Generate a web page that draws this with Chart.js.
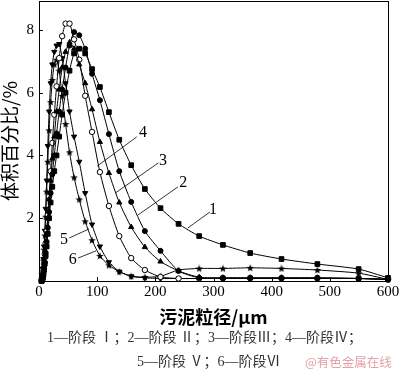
<!DOCTYPE html>
<html>
<head>
<meta charset="utf-8">
<script src="https://cdn.jsdelivr.net/npm/chart.js@4.4.1/dist/chart.umd.min.js"></script>
<style>
  html, body { margin: 0; padding: 0; background: #fff; }
  #wrap { position: relative; width: 400px; height: 372px; overflow: hidden; }
  #chart { position: absolute; left: 0; top: -4px; }
  .cap {
    position: absolute;
    font-family: "Liberation Serif", "Noto Sans CJK SC", serif;
    font-size: 14px;
    line-height: 20px;
    color: #333;
    white-space: nowrap;
  }
  .mark {
    position: absolute;
    font-family: "Noto Sans CJK SC", sans-serif;
    font-size: 12.5px;
    line-height: 20px;
    color: #e3a2aa;
    white-space: nowrap;
  }
</style>
</head>
<body>
<div id="wrap">
  <canvas id="chart" width="400" height="334"></canvas>
  <div class="cap" style="left:47px;top:328px">1—阶段 Ⅰ；2—阶段 Ⅱ；3—阶段Ⅲ；4—阶段Ⅳ；</div>
  <div class="cap" style="left:137px;top:352px">5—阶段 Ⅴ；6—阶段Ⅵ</div>
  <div class="mark" style="left:305px;top:352px">@有色金属在线</div>
</div>
<script>
// particle size bins (um)
const sizes = [4.4, 5.0, 5.8, 6.6, 7.6, 8.7, 10, 11.5, 13.2, 15.1, 17.4, 20, 22.9, 26.3, 30.2, 34.7, 39.8, 45.7, 52.5, 60.3,
  69.2, 79.4, 91.2, 104.7, 120.2, 138, 158.5, 182, 208.9, 239.9, 275.4, 316.2, 363.1, 416.9, 478.6, 549.5, 600];

// volume percentage (%) for each stage
const stage1 = [0, 0.02, 0.05, 0.1, 0.2, 0.35, 0.55, 0.8, 1.1, 1.5, 2.0, 2.5, 3.0, 3.5, 4.0, 4.6, 5.3, 6.0, 6.7, 7.25,
  7.4, 7.25, 6.75, 6.18, 5.38, 4.5, 3.69, 2.93, 2.32, 1.82, 1.43, 1.15, 0.89, 0.7, 0.54, 0.38, 0.1];
const stage2 = [0, 0.03, 0.07, 0.12, 0.22, 0.4, 0.6, 0.9, 1.25, 1.7, 2.2, 2.8, 3.4, 4.0, 4.7, 5.4, 6.1, 6.8, 7.5, 7.93,
  7.83, 7.4, 6.6, 5.76, 4.68, 3.5, 2.52, 1.59, 0.96, 0.32, 0.1, 0.08, 0.08, 0.08, 0.08, 0.08, 0.05];
const stage3 = [0, 0.04, 0.08, 0.15, 0.3, 0.5, 0.75, 1.1, 1.5, 2.0, 2.6, 3.2, 3.9, 4.6, 5.4, 6.1, 6.8, 7.3, 7.6, 7.4,
  6.9, 6.3, 5.47, 4.43, 3.44, 2.5, 1.72, 1.08, 0.62, 0.32, 0.12, 0.1, 0.1, 0.1, 0.1, 0.08, 0.05];
const stage4 = [0, 0.05, 0.1, 0.18, 0.32, 0.55, 0.85, 1.2, 1.6, 2.1, 2.7, 3.5, 4.4, 5.3, 6.2, 7.1, 7.8, 8.2, 8.2, 7.7,
  7.05, 5.9, 4.75, 3.47, 2.39, 1.43, 0.73, 0.35, 0.13, 0.08, 0.08, 0.1, 0.1, 0.1, 0.1, 0.08, 0.05];
const stage5 = [0.02, 0.08, 0.2, 0.4, 0.7, 1.1, 1.6, 2.3, 3.2, 4.3, 5.4, 6.3, 6.9, 7.3, 7.5, 7.55, 7.1, 6.3, 5.4, 4.6,
  3.8, 2.8, 1.8, 1.1, 0.6, 0.3, 0.15, 0.1, 0.08, 0.08, 0.08, 0.08, 0.08, 0.08, 0.08, 0.08, 0.05];
const stage6 = [0.02, 0.1, 0.22, 0.4, 0.65, 1.0, 1.45, 2.05, 2.85, 3.8, 4.8, 5.7, 6.4, 6.9, 7.05, 6.7, 5.9, 5.0, 4.1, 3.3,
  2.6, 1.9, 1.3, 0.8, 0.5, 0.3, 0.15, 0.12, 0.15, 0.35, 0.4, 0.4, 0.42, 0.4, 0.35, 0.25, 0.05];

const xTicks = [0, 100, 200, 300, 400, 500, 600];
const yTicks = [0, 2, 4, 6, 8];

// curve numbers with leader lines, in data units: [text, textX, textY, fromX, fromY, toX, toY]
const curveLabels = [
  ["1", 299, 2.26, 294, 2.2, 256, 1.69],
  ["2", 248, 3.12, 239, 3.0, 170, 2.1],
  ["3", 213, 3.82, 205, 3.76, 131, 2.8],
  ["4", 179, 4.71, 168, 4.59, 100, 3.66],
  ["5", 43, 1.31, 52, 1.37, 86, 1.66],
  ["6", 58, 0.67, 67, 0.73, 98, 0.96],
];

function makeStar(size) {
  const c = document.createElement("canvas");
  c.width = size;
  c.height = size;
  const g = c.getContext("2d");
  const r = size / 2;
  g.fillStyle = "#000";
  g.beginPath();
  for (let i = 0; i < 10; i++) {
    const rad = i % 2 === 0 ? r : r * 0.42;
    const a = -Math.PI / 2 + (i * Math.PI) / 5;
    const px = r + rad * Math.cos(a);
    const py = r + 0.3 + rad * Math.sin(a);
    if (i === 0) g.moveTo(px, py);
    else g.lineTo(px, py);
  }
  g.closePath();
  g.fill();
  return c;
}

function series(values, style) {
  return Object.assign(
    {
      data: sizes.map((x, i) => ({ x, y: values[i] })),
      showLine: true,
      borderColor: "#000",
      borderWidth: 1,
      tension: 0.2,
      pointBackgroundColor: "#000",
      pointBorderColor: "#000",
      pointBorderWidth: 1,
      pointRadius: 2.5,
      clip: false,
    },
    style
  );
}

const framePlugin = {
  id: "frame",
  afterDraw(chart) {
    const ctx = chart.ctx;
    const a = chart.chartArea;
    const xs = chart.scales.x;
    const ys = chart.scales.y;
    ctx.save();
    ctx.strokeStyle = "#000";
    ctx.lineWidth = 1;
    ctx.strokeRect(Math.round(a.left) + 0.5, Math.round(a.top) + 0.5, Math.round(a.right - a.left), Math.round(a.bottom - a.top));
    ctx.beginPath();
    xTicks.forEach((v) => {
      const px = Math.round(xs.getPixelForValue(v)) + 0.5;
      ctx.moveTo(px, a.bottom);
      ctx.lineTo(px, a.bottom - 4);
    });
    yTicks.forEach((v) => {
      const py = Math.round(ys.getPixelForValue(v)) + 0.5;
      ctx.moveTo(a.left, py);
      ctx.lineTo(a.left + 4, py);
    });
    ctx.stroke();

    ctx.font = "16px 'Liberation Serif'";
    ctx.fillStyle = "#000";
    ctx.textAlign = "center";
    ctx.textBaseline = "middle";
    ctx.lineWidth = 0.8;
    curveLabels.forEach(([t, tx, ty, x1, y1, x2, y2]) => {
      ctx.fillText(t, xs.getPixelForValue(tx), ys.getPixelForValue(ty));
      ctx.beginPath();
      ctx.moveTo(xs.getPixelForValue(x1), ys.getPixelForValue(y1));
      ctx.lineTo(xs.getPixelForValue(x2), ys.getPixelForValue(y2));
      ctx.stroke();
    });
    ctx.restore();
  },
};

const tickFont = { family: "'Liberation Serif'", size: 15 };

new Chart(document.getElementById("chart").getContext("2d"), {
  type: "scatter",
  data: {
    datasets: [
      series(stage1, { label: "1", pointStyle: "rect", pointRadius: 3.3 }),
      series(stage2, { label: "2", pointStyle: "circle" }),
      series(stage3, { label: "3", pointStyle: "triangle", pointRadius: 3 }),
      series(stage4, { label: "4", pointStyle: "circle", pointBackgroundColor: "#fff", pointRadius: 2.7 }),
      series(stage5, { label: "5", pointStyle: "triangle", rotation: 180, pointRadius: 3 }),
      series(stage6, { label: "6", pointStyle: makeStar(8) }),
    ],
  },
  options: {
    responsive: false,
    animation: false,
    layout: { padding: { top: 1, right: 12, left: 0, bottom: 0 } },
    plugins: { legend: { display: false }, tooltip: { enabled: false } },
    scales: {
      x: {
        type: "linear",
        min: 0,
        max: 600,
        afterBuildTicks: (s) => { s.ticks = xTicks.map((v) => ({ value: v })); },
        afterFit: (s) => {
          s.height = 49;
          s.paddingLeft = 0;
          s.paddingRight = 0;
        },
        grid: { display: false, drawTicks: false },
        border: { display: false },
        ticks: { color: "#000", font: tickFont, padding: 2, maxRotation: 0 },
        title: {
          display: true,
          text: "污泥粒径/μm",
          color: "#000",
          font: { family: "'Noto Sans CJK SC'", size: 18, weight: "bold" },
          padding: { top: 0, bottom: 2 },
        },
      },
      y: {
        min: 0,
        max: 8.92,
        afterBuildTicks: (s) => { s.ticks = yTicks.map((v) => ({ value: v })); },
        afterFit: (s) => {
          s.width = 39;
          s.paddingTop = 0;
          s.paddingBottom = 0;
        },
        grid: { display: false, drawTicks: false },
        border: { display: false },
        ticks: { color: "#000", font: tickFont, padding: 5, callback: (v) => (v === 0 ? "" : v) },
        title: {
          display: true,
          text: "体积百分比/%",
          color: "#000",
          font: { family: "'Noto Sans CJK SC'", size: 19, lineHeight: 1 },
          padding: { top: 0, bottom: 0 },
        },
      },
    },
  },
  plugins: [framePlugin],
});
</script>
</body>
</html>
